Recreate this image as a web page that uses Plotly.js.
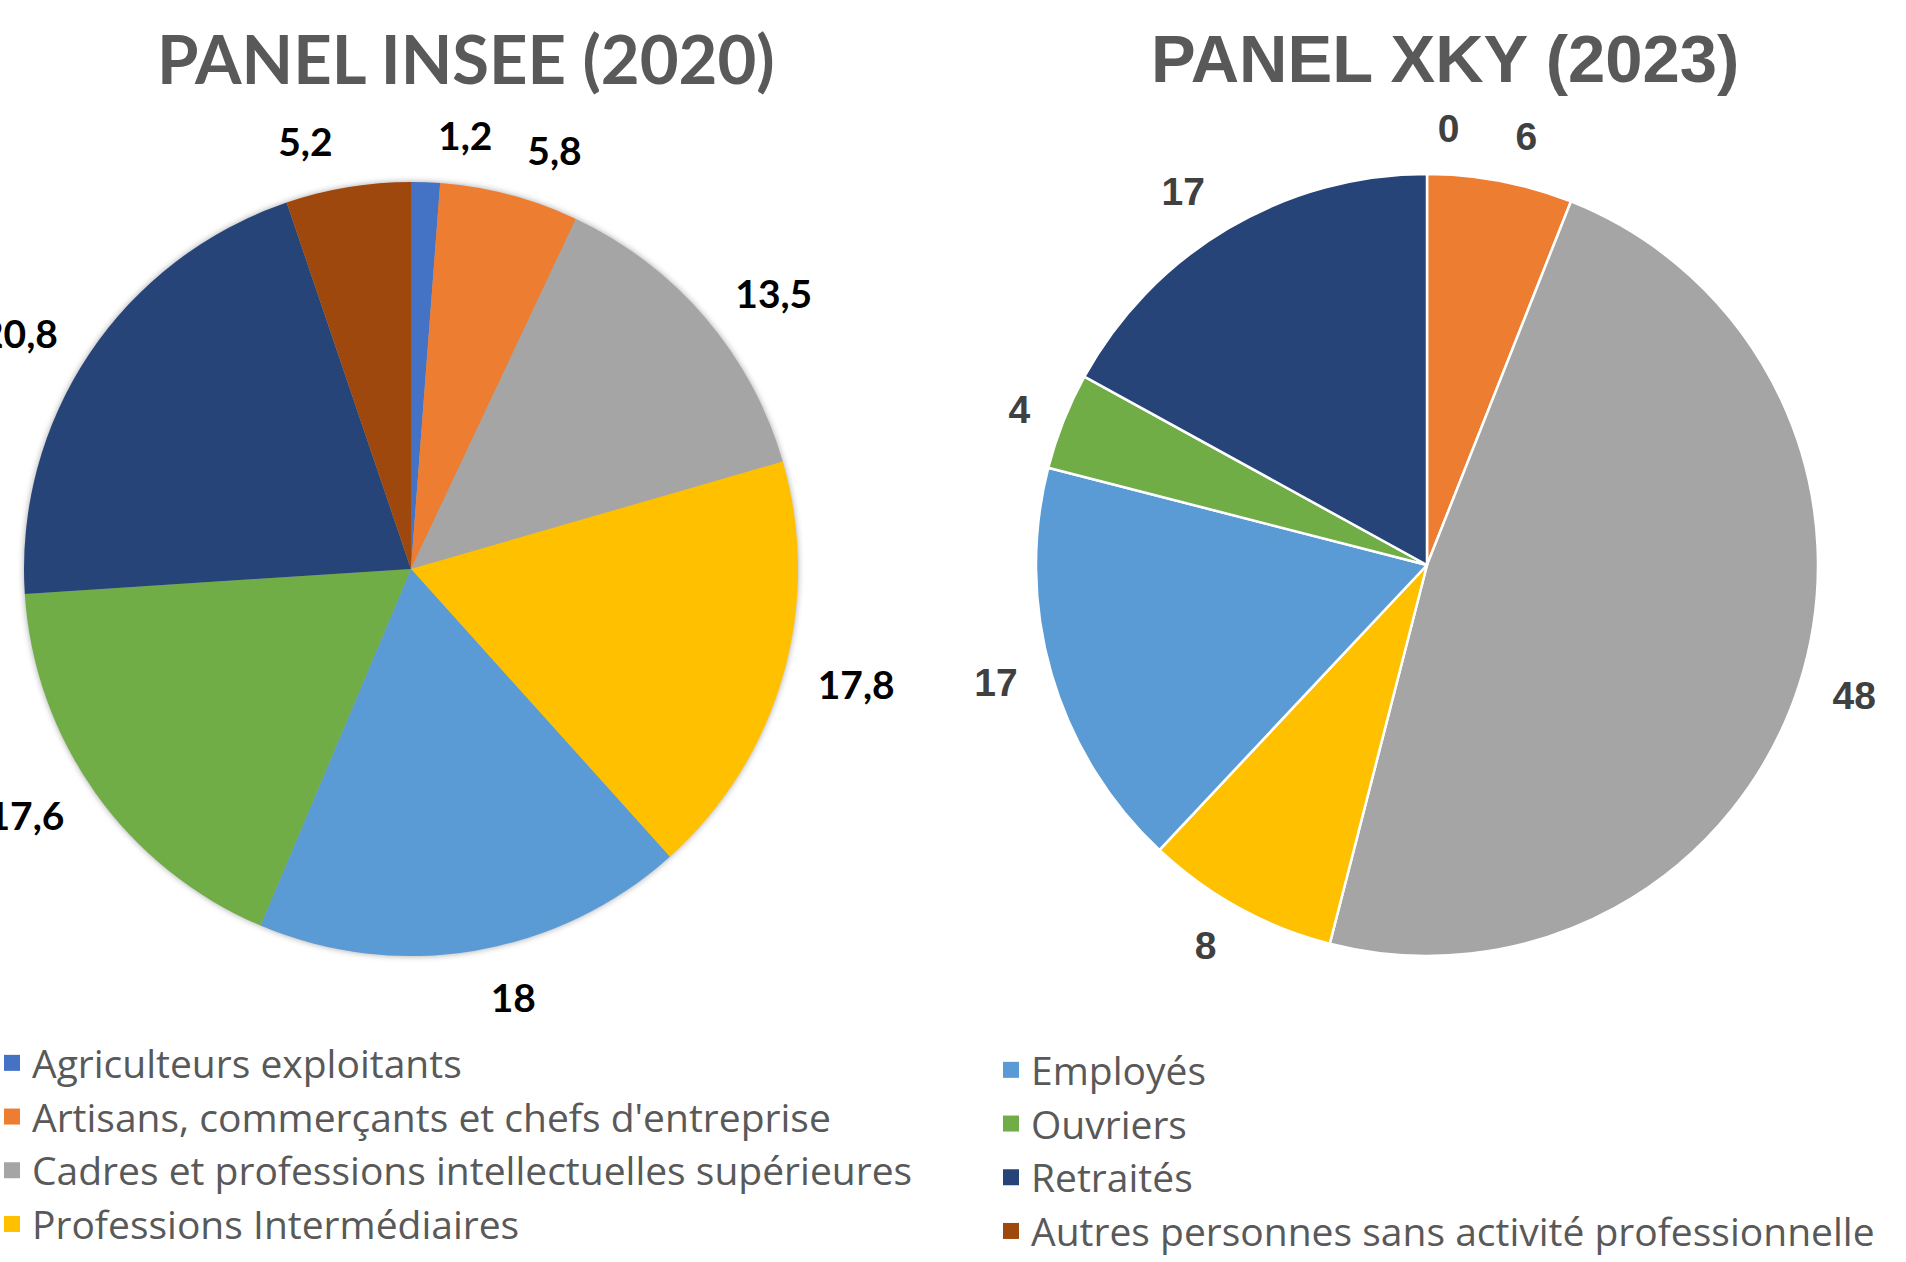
<!DOCTYPE html>
<html>
<head>
<meta charset="utf-8">
<script src="https://cdn.plot.ly/plotly-3.0.1.min.js"></script>
<style>
  html, body { margin: 0; padding: 0; background: #ffffff; }
  #chart { width: 1906px; height: 1262px; }
  path.textline { stroke-opacity: 0 !important; }
  .pielayer > g.trace:nth-child(1) { filter: drop-shadow(0px 0px 3px rgba(0,0,0,0.35)); }
</style>
</head>
<body>
<div id="chart"></div>
<script>
// ---- Data ----
const categories = [
  "Agriculteurs exploitants",
  "Artisans, commerçants et chefs d'entreprise",
  "Cadres et professions intellectuelles supérieures",
  "Professions Intermédiaires",
  "Employés",
  "Ouvriers",
  "Retraités",
  "Autres personnes sans activité professionnelle"
];
const insee2020 = [1.2, 5.8, 13.5, 17.8, 18, 17.6, 20.8, 5.2];
const xky2023 = [0, 6, 48, 8, 17, 4, 17, null];
const titles = ["PANEL INSEE (2020)", "PANEL XKY (2023)"];
const colors = ["#4472C4", "#ED7D31", "#A5A5A5", "#FFC000", "#5B9BD5", "#70AD47", "#264478", "#9E480E"];

const W = 1906, H = 1262;

// pie geometry (pixels)
const geo = [
  { cx: 411, cy: 569, r: 387 },
  { cx: 1427, cy: 565, r: 391 }
];
const labelGap = 24; // labels sit a bit further out, like the reference

function domainFor(g, extra) {
  const r = g.r + extra;
  return {
    x: [Math.max(0, (g.cx - r) / W), Math.min(1, (g.cx + r) / W)],
    y: [1 - (g.cy + r) / H, 1 - (g.cy - r) / H]
  };
}

const labelFonts = [
  { family: 'Lato, sans-serif', size: 39, color: '#000000', weight: 'bold' },
  { family: 'Liberation Sans, Arial, sans-serif', size: 39, color: '#404040', weight: 'bold' }
];
const seriesList = [insee2020, xky2023];

const traces = [];
seriesList.forEach((vals, k) => {
  // visible pie
  traces.push({
    type: 'pie',
    labels: categories,
    values: vals,
    sort: false,
    direction: 'clockwise',
    rotation: 0,
    textinfo: 'none',
    automargin: false,
    showlegend: false,
    hoverinfo: 'label+value',
    marker: { colors: colors, line: k === 0 ? { width: 0 } : { width: 2.5, color: '#ffffff' } },
    domain: domainFor(geo[k], 0)
  });
  // transparent twins carrying the data labels (alternate slices, so neighbours
  // do not push each other away), slightly larger radius
  [0, 1].forEach(parity => {
    traces.push({
      type: 'pie',
      labels: categories,
      values: vals,
      sort: false,
      direction: 'clockwise',
      rotation: 0,
      textinfo: 'value',
      textposition: categories.map((c, i) => (i % 2 === parity ? 'outside' : 'none')),
      automargin: false,
      showlegend: false,
      hoverinfo: 'skip',
      marker: { colors: categories.map(() => 'rgba(0,0,0,0)'), line: { width: 0 } },
      outsidetextfont: labelFonts[k],
      textfont: labelFonts[k],
      domain: domainFor(geo[k], labelGap)
    });
  });
});

// Legend proxies (one per category), split across two legends
const legendTraces = categories.map((c, i) => ({
  type: 'scatter',
  mode: 'markers',
  x: [null],
  y: [null],
  name: c,
  legendgroup: 'g' + i,
  legend: i < 4 ? 'legend' : 'legend2',
  marker: { symbol: 'square', size: 16, color: colors[i] },
  hoverinfo: 'skip',
  showlegend: true
}));

const legendFont = { family: 'Open Sans, sans-serif', size: 39, color: '#595959' };

const layout = {
  width: W,
  height: H,
  margin: { l: 0, r: 0, t: 0, b: 0, autoexpand: false },
  paper_bgcolor: '#ffffff',
  plot_bgcolor: '#ffffff',
  separators: ', ',
  xaxis: { visible: false, range: [0, 1] },
  yaxis: { visible: false, range: [0, 1] },
  legend: {
    x: -8 / W, y: 1 - 1031 / H, xanchor: 'left', yanchor: 'top',
    font: legendFont, tracegroupgap: 0, bgcolor: 'rgba(0,0,0,0)',
    orientation: 'v'
  },
  legend2: {
    x: 991 / W, y: 1 - 1038 / H, xanchor: 'left', yanchor: 'top',
    font: legendFont, tracegroupgap: 0, bgcolor: 'rgba(0,0,0,0)',
    orientation: 'v'
  },
  annotations: [
    {
      text: titles[0], xref: 'paper', yref: 'paper',
      x: 466 / W, y: 1 - 58 / H, xanchor: 'center', yanchor: 'middle', showarrow: false,
      font: { family: 'Lato, sans-serif', size: 67, color: '#595959', weight: 'bold' }
    },
    {
      text: titles[1], xref: 'paper', yref: 'paper',
      x: 1445 / W, y: 1 - 58 / H, xanchor: 'center', yanchor: 'middle', showarrow: false,
      font: { family: 'Liberation Sans, Arial, sans-serif', size: 67, color: '#595959', weight: 'bold' }
    }
  ]
};

Plotly.newPlot('chart', traces.concat(legendTraces), layout, { displayModeBar: false, staticPlot: true });
</script>
</body>
</html>
